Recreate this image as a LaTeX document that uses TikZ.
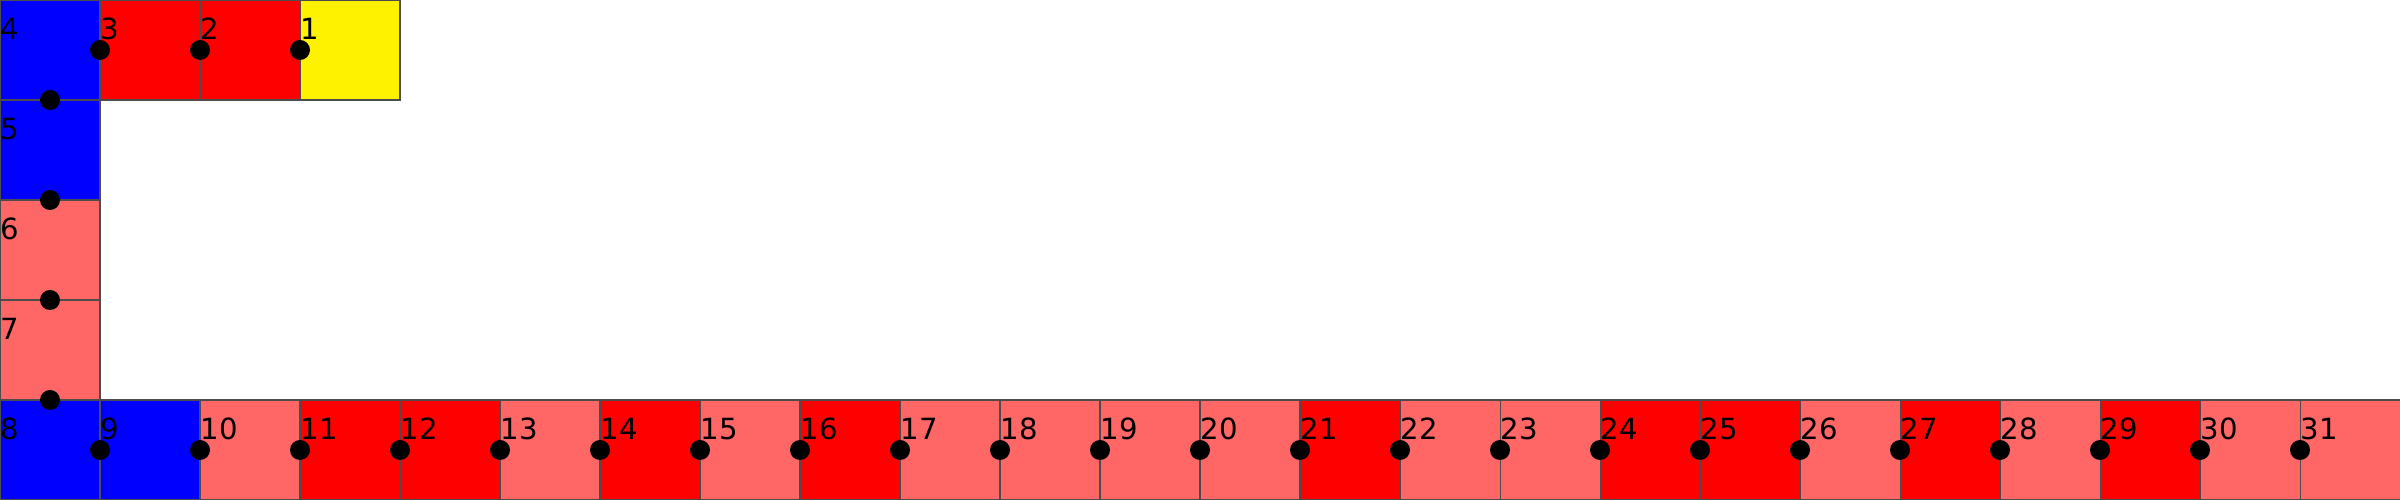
\documentclass[tikz,border=0pt]{standalone}
\usepackage{fontspec}
\setmainfont{DejaVu Sans}
\usetikzlibrary{positioning}
\tikzset{
  cell/.style={draw=black!70,line width=0.3pt,minimum size=1cm,inner sep=0pt,outer sep=0pt},
  blucell/.style={cell,fill=blue},
  redcell/.style={cell,fill=red},
  pnkcell/.style={cell,fill=red!60},
  yelcell/.style={cell,fill=yellow},
  num/.style={font=\fontsize{8.3}{10}\selectfont,inner sep=0pt,anchor=base west},
  dot/.style={circle,fill=black,inner sep=0pt,minimum size=0.2cm}
}
\begin{document}
\begin{tikzpicture}[node distance=0cm]
  \useasboundingbox (0,0) rectangle (24,5);
  % Top row
  \node[yelcell] (c1) at (3.5,4.5) {};
  \node[redcell, left=of c1] (c2) {};
  \node[redcell, left=of c2] (c3) {};
  \node[blucell, left=of c3] (c4) {};

  % Left column
  \node[blucell, below=of c4] (c5) {};
  \node[pnkcell, below=of c5] (c6) {};
  \node[pnkcell, below=of c6] (c7) {};
  \node[blucell, below=of c7] (c8) {};

  % Bottom row
  \foreach \n/\s in {9/blucell,10/pnkcell,11/redcell,12/redcell,13/pnkcell,14/redcell,
      15/pnkcell,16/redcell,17/pnkcell,18/pnkcell,19/pnkcell,20/pnkcell,21/redcell,
      22/pnkcell,23/pnkcell,24/redcell,25/redcell,26/pnkcell,27/redcell,28/pnkcell,
      29/redcell,30/pnkcell,31/pnkcell}
    \node[\s] (c\n) at ({\n-7.5},0.5) {};

  % Numbers
  \foreach \n in {1,...,31}
    \node[num] (n\n) at ([shift={(0,-0.4)}]c\n.north west) {\n};

  % Joints
  \foreach \n in {1,2,3}
    \node[dot] (d\n) at (c\n.west) {};
  \foreach \n in {4,...,7}
    \node[dot] (d\n) at (c\n.south) {};
  \foreach \n in {9,...,31}
    \node[dot] (d\n) at (c\n.west) {};
\end{tikzpicture}
\end{document}
